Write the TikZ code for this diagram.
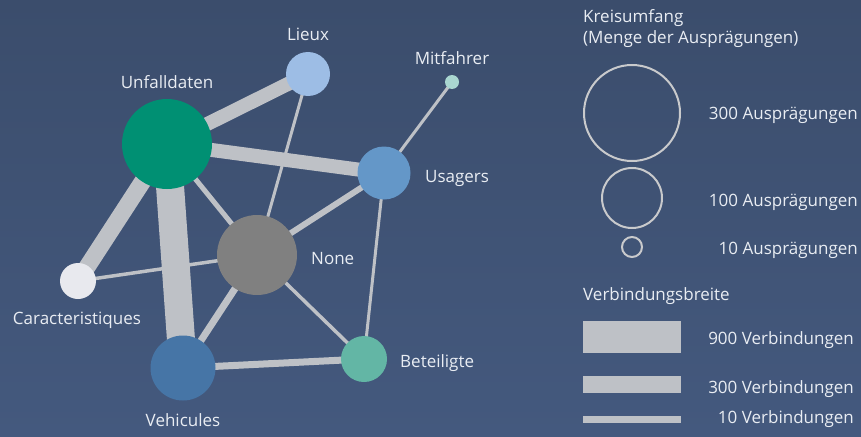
\documentclass[tikz,border=0pt]{standalone}
\usepackage{fontspec}
\setmainfont{Open Sans}
\usepackage{tikz}
\usetikzlibrary{backgrounds}
\definecolor{bgtop}{HTML}{3B4D6C}
\definecolor{bgbottom}{HTML}{44597E}
\definecolor{linkgray}{HTML}{BEC1C6}
\definecolor{ringgray}{HTML}{C9CACC}
\definecolor{textwhite}{HTML}{E9EDF3}
\definecolor{cUnfall}{HTML}{009073}
\definecolor{cLieux}{HTML}{9DBDE5}
\definecolor{cMitfahrer}{HTML}{A9D6D0}
\definecolor{cUsagers}{HTML}{6497C8}
\definecolor{cNone}{HTML}{808080}
\definecolor{cCaract}{HTML}{E8E9EE}
\definecolor{cVehic}{HTML}{4675A6}
\definecolor{cBeteil}{HTML}{63B6A5}
\newcommand{\lblfont}{\fontsize{17}{20}\selectfont}
\tikzstyle{vertex} = [circle, inner sep=0pt, draw=none]
\tikzstyle{caption} = [text=textwhite, font=\lblfont, inner sep=0pt, anchor=base]
\tikzstyle{link} = [draw=linkgray, line cap=butt]
\tikzstyle{ring} = [circle, inner sep=0pt, draw=ringgray, line width=2pt]
\tikzstyle{bar} = [rectangle, inner sep=0pt, fill=linkgray, minimum width=98pt]

\begin{document}
\begin{tikzpicture}[x=1pt, y=-1pt]
        \useasboundingbox (0,0) rectangle (861,436);
        % graph
        \node [vertex, fill=cUnfall, minimum size=90pt] (unfall) at (167,144) {};
        \node [vertex, fill=cLieux, minimum size=44pt] (lieux) at (308,74) {};
        \node [vertex, fill=cMitfahrer, minimum size=14pt] (mitfahrer) at (452,82) {};
        \node [vertex, fill=cUsagers, minimum size=53pt] (usagers) at (384,173) {};
        \node [vertex, fill=cNone, minimum size=80pt] (none) at (257,255) {};
        \node [vertex, fill=cCaract, minimum size=36pt] (caract) at (78,281) {};
        \node [vertex, fill=cVehic, minimum size=65pt] (vehic) at (183,368) {};
        \node [vertex, fill=cBeteil, minimum size=46pt] (beteil) at (364,359) {};

        \node [caption] (unfallLbl) at (167,88) {Unfalldaten};
        \node [caption] (lieuxLbl) at (308,41) {Lieux};
        \node [caption] (mitfahrerLbl) at (452,64) {Mitfahrer};
        \node [caption, anchor=base west] (usagersLbl) at (425,182) {Usagers};
        \node [caption, anchor=base west] (noneLbl) at (311,264) {None};
        \node [caption] (caractLbl) at (77,324) {Caracteristiques};
        \node [caption] (vehicLbl) at (183,426) {Vehicules};
        \node [caption, anchor=base west] (beteilLbl) at (400,367) {Beteiligte};

        \begin{pgfonlayer}{background}
        \shade [top color=bgtop, bottom color=bgbottom] (0,0) rectangle (861,436);
        \path [link, line width=28pt] (unfall.center) edge (vehic.center);
        \path [link, line width=17pt] (unfall.center) edge (caract.center);
        \path [link, line width=14pt] (unfall.center) edge (lieux.center);
        \path [link, line width=14pt] (unfall.center) edge (usagers.center);
        \path [link, line width=5pt] (unfall.center) edge (none.center);
        \path [link, line width=3pt] (lieux.center) edge (none.center);
        \path [link, line width=3pt] (mitfahrer.center) edge (usagers.center);
        \path [link, line width=6pt] (usagers.center) edge (none.center);
        \path [link, line width=3pt] (usagers.center) edge (beteil.center);
        \path [link, line width=3.5pt] (caract.center) edge (none.center);
        \path [link, line width=7pt] (none.center) edge (vehic.center);
        \path [link, line width=3.5pt] (none.center) edge (beteil.center);
        \path [link, line width=7pt] (vehic.center) edge (beteil.center);
        \end{pgfonlayer}

        % legend
        \node [caption, anchor=base west] (kreisTitle) at (583,23) {Kreisumfang};
        \node [caption, anchor=base west] (kreisSub) at (583,44) {(Menge der Ausprägungen)};
        \node [ring, minimum size=96pt] (ringBig) at (632,113) {};
        \node [ring, minimum size=60pt] (ringMid) at (632,198) {};
        \node [ring, minimum size=20pt] (ringSmall) at (632,247) {};
        \node [caption, anchor=base east] (ringBigLbl) at (858,119) {300 Ausprägungen};
        \node [caption, anchor=base east] (ringMidLbl) at (858,206) {100 Ausprägungen};
        \node [caption, anchor=base east] (ringSmallLbl) at (858,254) {10 Ausprägungen};

        \node [caption, anchor=base west] (breiteTitle) at (583,300) {Verbindungsbreite};
        \node [bar, minimum height=32pt] (barBig) at (632,337) {};
        \node [bar, minimum height=17pt] (barMid) at (632,384.5) {};
        \node [bar, minimum height=7pt] (barSmall) at (632,419.5) {};
        \node [caption, anchor=base east] (barBigLbl) at (854,344) {900 Verbindungen};
        \node [caption, anchor=base east] (barMidLbl) at (854,393) {300 Verbindungen};
        \node [caption, anchor=base east] (barSmallLbl) at (854,423) {10 Verbindungen};
    \end{tikzpicture}
\end{document}
